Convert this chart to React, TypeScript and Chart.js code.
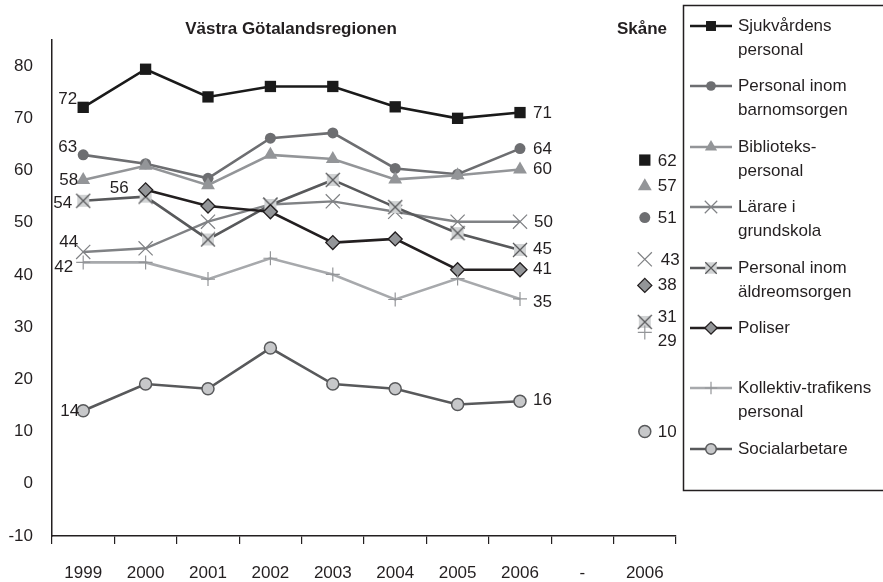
import React, { useEffect, useRef } from 'react';
import { Chart, registerables } from 'chart.js';

Chart.register(...registerables);

// ---------- data ----------
const categories = ['1999', '2000', '2001', '2002', '2003', '2004', '2005', '2006', '-', '2006'];
const seriesNames: string[][] = [
  ['Sjukvårdens', 'personal'],
  ['Personal inom', 'barnomsorgen'],
  ['Biblioteks-', 'personal'],
  ['Lärare i', 'grundskola'],
  ['Personal inom', 'äldreomsorgen'],
  ['Poliser'],
  ['Kollektiv-trafikens', 'personal'],
  ['Socialarbetare'],
];
const sjukvard = [72.1, 79.4, 74.1, 76.1, 76.1, 72.2, 70.0, 71.1];
const barnomsorg = [63.0, 61.3, 58.5, 66.2, 67.2, 60.4, 59.3, 64.2];
const bibliotek = [58.2, 60.9, 57.2, 63.0, 62.2, 58.3, 59.1, 60.2];
const larare = [44.4, 45.1, 50.2, 53.5, 54.1, 52.1, 50.2, 50.2];
const aldre = [54.2, 55.0, 46.8, 53.4, 58.2, 53.0, 48.0, 44.8];
const poliser = [null, 56.3, 53.2, 52.1, 46.2, 46.9, 41.0, 41.0];
const kollektiv = [42.4, 42.4, 39.2, 43.2, 40.1, 35.3, 39.3, 35.4];
const social = [14.0, 19.1, 18.2, 26.0, 19.1, 18.2, 15.2, 15.8];
const skane = [62, 51, 57, 43, 31, 38, 29, 10];
const yTicks = [-10, 0, 10, 20, 30, 40, 50, 60, 70, 80];
const vgrTitle = 'Västra Götalandsregionen';
const skaneTitle = 'Skåne';

const vgrSeries = [sjukvard, barnomsorg, bibliotek, larare, aldre, poliser, kollektiv, social];

// ---------- styles ----------
const FONT = '"Liberation Sans", Arial, Helvetica, sans-serif';
const TEXT = '#231f20';

function makeAldreMarker(side: number, span: number) {
  const c = document.createElement('canvas');
  const s = Math.ceil(Math.max(side, span)) + 2;
  c.width = s;
  c.height = s;
  const g = c.getContext('2d')!;
  const m = s / 2;
  g.fillStyle = '#d1d3d4';
  g.fillRect(m - side / 2, m - side / 2, side, side);
  g.strokeStyle = '#58595b';
  g.lineWidth = 1.3;
  g.beginPath();
  g.moveTo(m - span / 2, m - span / 2);
  g.lineTo(m + span / 2, m + span / 2);
  g.moveTo(m + span / 2, m - span / 2);
  g.lineTo(m - span / 2, m + span / 2);
  g.stroke();
  return c;
}

type Style = {
  line: string;
  lineWidth: number;
  point: string;
  radius: number;
  bg: string;
  border: string;
  bw: number;
  left: [number, number];
  right: [number, number];
  sk: [number, number];
};

const styles: Style[] = [
  { line: '#1a1a1a', lineWidth: 2.6, point: 'rect', radius: 8, bg: '#1a1a1a', border: '#1a1a1a', bw: 0, left: [-6, -8], right: [13, 1], sk: [13, 1] },
  { line: '#6d6e71', lineWidth: 2.6, point: 'circle', radius: 5.5, bg: '#6d6e71', border: '#6d6e71', bw: 0, left: [-6, -8], right: [13, 1], sk: [13, 1] },
  { line: '#939598', lineWidth: 2.6, point: 'triangle', radius: 8, bg: '#939598', border: '#939598', bw: 0, left: [-5, 0], right: [13, 0], sk: [13, 0] },
  { line: '#808285', lineWidth: 2.4, point: 'crossRot', radius: 10, bg: '#808285', border: '#808285', bw: 1.2, left: [-5, -10], right: [14, 1], sk: [16, 1] },
  { line: '#58595b', lineWidth: 2.6, point: 'aldre', radius: 7, bg: '#d1d3d4', border: '#58595b', bw: 1.2, left: [-11, 3], right: [13, -1], sk: [13, -5] },
  { line: '#231f20', lineWidth: 2.6, point: 'rectRot', radius: 7, bg: '#939598', border: '#231f20', bw: 1.3, left: [-17, -2], right: [13, 0], sk: [13, 0] },
  { line: '#a7a9ac', lineWidth: 2.6, point: 'cross', radius: 7, bg: '#939598', border: '#939598', bw: 1.2, left: [-10, 5], right: [13, 3], sk: [13, 9] },
  { line: '#58595b', lineWidth: 2.6, point: 'circle', radius: 6, bg: '#c7c8ca', border: '#58595b', bw: 1.5, left: [-4, 1], right: [13, -1], sk: [13, 1] },
];

const legendY = [26, 86, 147, 207, 268, 328, 388, 449];

function drawMarker(ctx: CanvasRenderingContext2D, st: Style, x: number, y: number, scale: number) {
  ctx.save();
  ctx.fillStyle = st.bg;
  ctx.strokeStyle = st.border;
  ctx.lineWidth = st.bw || 1;
  const r = st.radius * scale;
  ctx.beginPath();
  switch (st.point) {
    case 'rect': {
      const s = r * Math.SQRT1_2;
      ctx.fillRect(x - s, y - s, 2 * s, 2 * s);
      break;
    }
    case 'circle':
      ctx.arc(x, y, r, 0, Math.PI * 2);
      ctx.fill();
      if (st.bw) ctx.stroke();
      break;
    case 'triangle':
      ctx.moveTo(x, y - r);
      ctx.lineTo(x + r * 0.866, y + r * 0.5);
      ctx.lineTo(x - r * 0.866, y + r * 0.5);
      ctx.closePath();
      ctx.fill();
      break;
    case 'crossRot': {
      const o = r * Math.SQRT1_2;
      ctx.moveTo(x - o, y - o);
      ctx.lineTo(x + o, y + o);
      ctx.moveTo(x + o, y - o);
      ctx.lineTo(x - o, y + o);
      ctx.stroke();
      break;
    }
    case 'cross':
      ctx.moveTo(x - r, y);
      ctx.lineTo(x + r, y);
      ctx.moveTo(x, y - r);
      ctx.lineTo(x, y + r);
      ctx.stroke();
      break;
    case 'rectRot':
      ctx.moveTo(x, y - r);
      ctx.lineTo(x + r, y);
      ctx.lineTo(x, y + r);
      ctx.lineTo(x - r, y);
      ctx.closePath();
      ctx.fill();
      ctx.stroke();
      break;
    case 'aldre': {
      const s = 5 * scale * 1.3;
      ctx.fillStyle = '#d1d3d4';
      ctx.fillRect(x - s, y - s, 2 * s, 2 * s);
      ctx.strokeStyle = '#58595b';
      ctx.lineWidth = 1.2;
      ctx.moveTo(x - s, y - s);
      ctx.lineTo(x + s, y + s);
      ctx.moveTo(x + s, y - s);
      ctx.lineTo(x - s, y + s);
      ctx.stroke();
      break;
    }
  }
  ctx.restore();
}

const overlayPlugin = {
  id: 'overlay',
  afterDatasetsDraw(chart: any) {
    const ctx: CanvasRenderingContext2D = chart.ctx;
    ctx.save();
    // value labels
    ctx.font = `17px ${FONT}`;
    ctx.fillStyle = TEXT;
    ctx.textBaseline = 'middle';
    chart.data.datasets.forEach((ds: any, di: number) => {
      const meta = chart.getDatasetMeta(di);
      const st = styles[di];
      const data = ds.data as (number | null)[];
      const first = data.findIndex((v) => v !== null);
      const drawAt = (idx: number, off: [number, number], align: CanvasTextAlign) => {
        const el = meta.data[idx];
        const v = data[idx];
        if (!el || v === null || v === undefined) return;
        ctx.textAlign = align;
        ctx.fillText(String(Math.round(v)), el.x + off[0], el.y + off[1]);
      };
      drawAt(first, st.left, 'right');
      drawAt(7, st.right, 'left');
      drawAt(9, st.sk, 'left');
    });
    // titles
    ctx.font = `bold 17px ${FONT}`;
    ctx.textAlign = 'center';
    ctx.fillText(vgrTitle, 291, 29);
    ctx.fillText(skaneTitle, 642, 29);
    // legend box
    ctx.strokeStyle = '#231f20';
    ctx.lineWidth = 1.5;
    ctx.strokeRect(683.5, 5.5, 260, 485);
    ctx.font = `17px ${FONT}`;
    ctx.textAlign = 'left';
    seriesNames.forEach((lines, i) => {
      const st = styles[i];
      const y = legendY[i];
      ctx.save();
      ctx.strokeStyle = st.line;
      ctx.lineWidth = st.lineWidth;
      ctx.beginPath();
      ctx.moveTo(690, y);
      ctx.lineTo(732, y);
      ctx.stroke();
      ctx.restore();
      drawMarker(ctx, st, 711, y, 0.88);
      ctx.fillStyle = TEXT;
      lines.forEach((t, li) => ctx.fillText(t, 738, y + li * 24));
    });
    ctx.restore();
  },
};

export default function App() {
  const ref = useRef<HTMLCanvasElement | null>(null);
  useEffect(() => {
    if (!ref.current) return;
    const aldreImg = makeAldreMarker(12, 14);
    const datasets = vgrSeries.map((vals, i) => {
      const st = styles[i];
      return {
        label: seriesNames[i].join(' '),
        data: [...vals, null, skane[i]],
        borderColor: st.line,
        borderWidth: st.lineWidth,
        backgroundColor: st.bg,
        pointStyle: st.point === 'aldre' ? aldreImg : st.point,
        pointRadius: st.radius,
        pointBackgroundColor: st.bg,
        pointBorderColor: st.border,
        pointBorderWidth: st.bw,
        tension: 0,
        spanGaps: false,
        fill: false,
        order: 10 - i,
      };
    });
    const chart = new Chart(ref.current, {
      type: 'line',
      data: { labels: categories, datasets },
      options: {
        animation: false,
        responsive: false,
        layout: { padding: { left: 0, top: 40, right: 207, bottom: 0 } },
        font: { family: FONT, size: 17 },
        plugins: { legend: { display: false }, tooltip: { enabled: false }, title: { display: false } },
        scales: {
          x: {
            type: 'category',
            offset: true,
            grid: { display: true, drawOnChartArea: false, drawTicks: true, tickLength: 8, color: '#231f20', lineWidth: 1.2, offset: true },
            border: { display: true, color: '#231f20', width: 1.5 },
            ticks: { color: TEXT, font: { family: FONT, size: 17 }, padding: 19, maxRotation: 0, autoSkip: false },
            afterFit: (s: any) => { s.height = 46; },
          },
          y: {
            min: -10,
            max: 85,
            grid: { display: false, drawTicks: false },
            border: { display: true, color: '#231f20', width: 1.5 },
            ticks: { stepSize: 10, color: TEXT, font: { family: FONT, size: 17 }, padding: 19 },
            afterBuildTicks: (s: any) => {
              s.ticks = yTicks.map((v) => ({ value: v }));
            },
            afterFit: (s: any) => { s.width = 52; },
          },
        },
      },
      plugins: [overlayPlugin],
    } as any);
    return () => chart.destroy();
  }, []);
  return (
    <div style={{ position: 'fixed', left: 0, top: 0, width: 883, height: 582, background: '#fff' }}>
      <canvas ref={ref} width={883} height={582} style={{ display: 'block' }} />
    </div>
  );
}
